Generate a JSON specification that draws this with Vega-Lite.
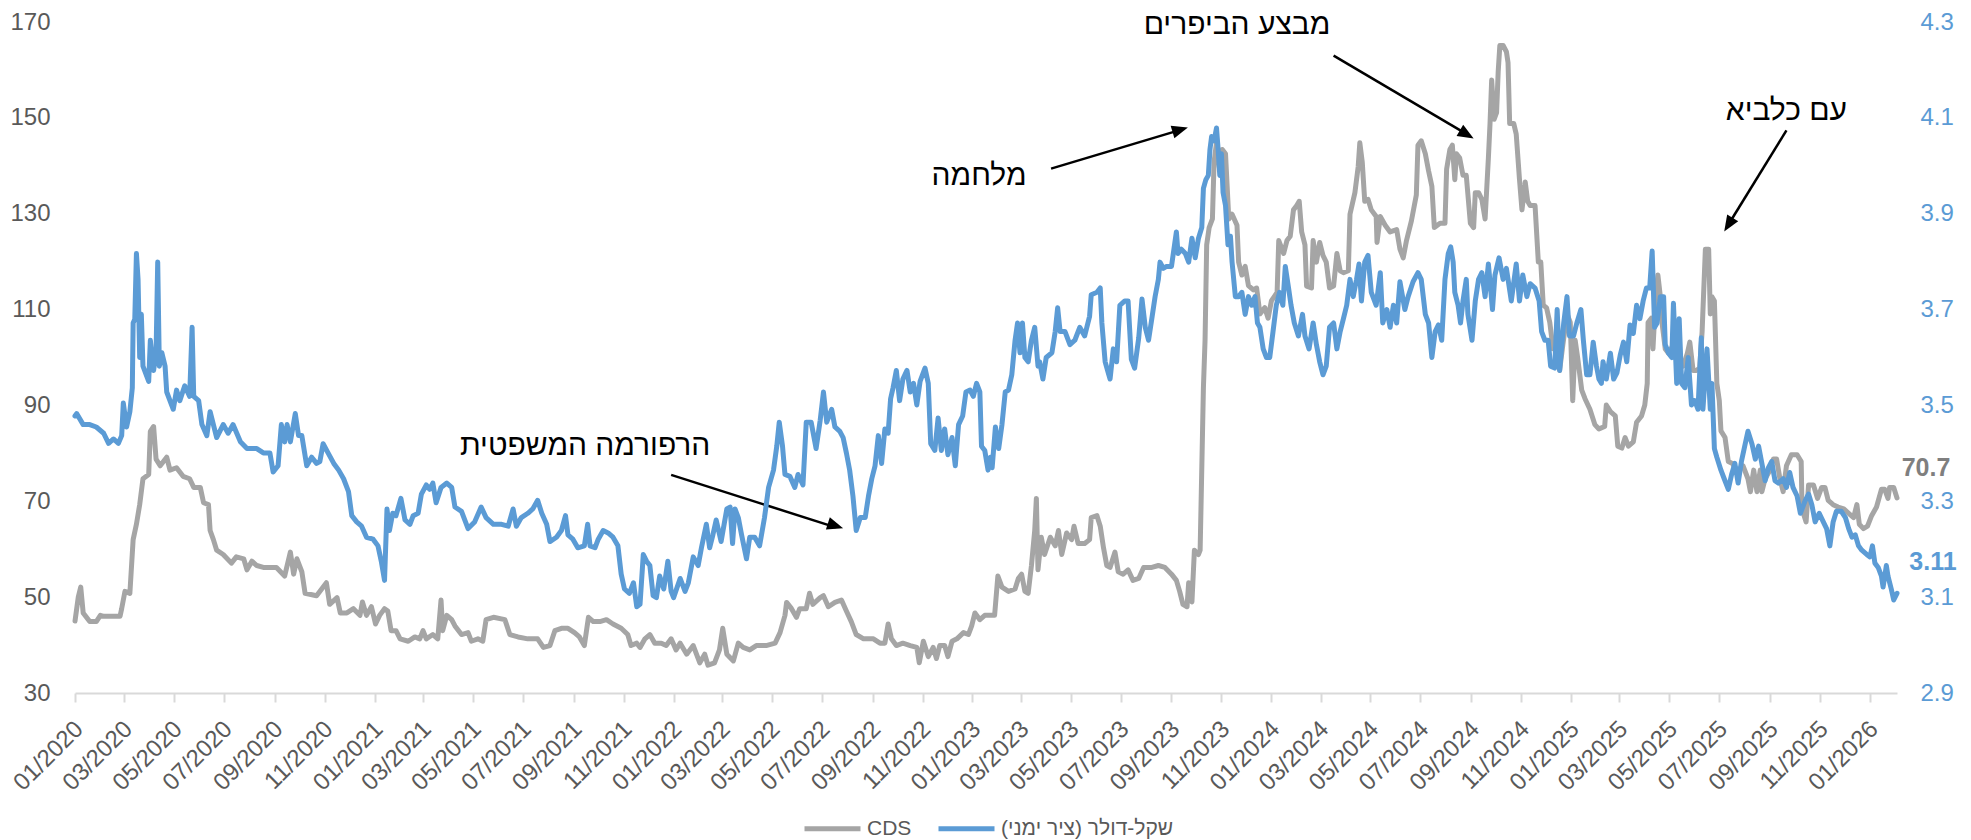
{
"$schema": "https://vega.github.io/schema/vega-lite/v6.json",
"width": 1822, "height": 671,
"autosize": {"type": "none"},
"padding": {"left": 75, "top": 22, "right": 74, "bottom": 147},
"background": "white",
"config": {"view": {"stroke": null}, "axis": {"grid": false}},
"datasets": {
"cds": [
{"d":"2020-01-01","v":45},{"d":"2020-01-05","v":50},{"d":"2020-01-08","v":52.1},{"d":"2020-01-11","v":46.7},{"d":"2020-01-19","v":44.9},{"d":"2020-01-27","v":44.9},{"d":"2020-02-01","v":46.2},{"d":"2020-02-05","v":46},{"d":"2020-02-25","v":46},{"d":"2020-02-27","v":47.6},
{"d":"2020-03-02","v":51.2},{"d":"2020-03-08","v":50.8},{"d":"2020-03-12","v":62},{"d":"2020-03-16","v":65.2},{"d":"2020-03-20","v":69.3},{"d":"2020-03-24","v":74.7},{"d":"2020-03-31","v":75.6},{"d":"2020-04-02","v":84.6},{"d":"2020-04-06","v":85.6},{"d":"2020-04-09","v":78.8},
{"d":"2020-04-14","v":77.4},{"d":"2020-04-22","v":79.2},{"d":"2020-04-26","v":76.5},{"d":"2020-05-04","v":77},{"d":"2020-05-12","v":75.2},{"d":"2020-05-20","v":74.7},{"d":"2020-05-25","v":72.9},{"d":"2020-06-02","v":72.9},{"d":"2020-06-06","v":69.7},{"d":"2020-06-12","v":69.3},
{"d":"2020-06-14","v":63.9},{"d":"2020-06-18","v":62},{"d":"2020-06-22","v":59.8},{"d":"2020-06-30","v":58.9},{"d":"2020-07-10","v":57.1},{"d":"2020-07-16","v":58.4},{"d":"2020-07-25","v":58},{"d":"2020-07-29","v":55.7},{"d":"2020-08-04","v":57.5},{"d":"2020-08-10","v":56.6},
{"d":"2020-08-18","v":56.2},{"d":"2020-09-03","v":56.2},{"d":"2020-09-13","v":54.4},{"d":"2020-09-20","v":59.4},{"d":"2020-09-24","v":54.8},{"d":"2020-09-28","v":58},{"d":"2020-10-04","v":55.3},{"d":"2020-10-08","v":50.8},{"d":"2020-10-22","v":50.3},{"d":"2020-11-03","v":53},
{"d":"2020-11-07","v":48.5},{"d":"2020-11-16","v":49.9},{"d":"2020-11-20","v":46.7},{"d":"2020-11-28","v":46.7},{"d":"2020-12-06","v":47.6},{"d":"2020-12-14","v":46.2},{"d":"2020-12-17","v":49},{"d":"2020-12-22","v":46.2},{"d":"2020-12-28","v":48},
{"d":"2021-01-02","v":44.4},{"d":"2021-01-07","v":46.2},{"d":"2021-01-13","v":47.6},{"d":"2021-01-17","v":47.1},{"d":"2021-01-21","v":43},{"d":"2021-01-27","v":43},{"d":"2021-02-01","v":41.3},{"d":"2021-02-11","v":40.8},{"d":"2021-02-19","v":41.7},{"d":"2021-02-25","v":41.3},
{"d":"2021-03-01","v":43},{"d":"2021-03-05","v":41.3},{"d":"2021-03-13","v":42.2},{"d":"2021-03-19","v":41.3},{"d":"2021-03-23","v":49.4},{"d":"2021-03-25","v":43},{"d":"2021-03-30","v":46.2},{"d":"2021-04-05","v":45.3},{"d":"2021-04-09","v":44},{"d":"2021-04-17","v":42.2},
{"d":"2021-04-25","v":42.6},{"d":"2021-04-29","v":40.8},{"d":"2021-05-07","v":41.3},{"d":"2021-05-13","v":40.8},{"d":"2021-05-17","v":45.3},{"d":"2021-05-26","v":45.8},{"d":"2021-06-09","v":45.3},{"d":"2021-06-15","v":42.2},{"d":"2021-06-25","v":41.7},{"d":"2021-07-07","v":41.3},
{"d":"2021-07-19","v":41.3},{"d":"2021-07-26","v":39.5},{"d":"2021-08-03","v":39.9},{"d":"2021-08-09","v":43},{"d":"2021-08-17","v":43.5},{"d":"2021-08-25","v":43.5},{"d":"2021-09-02","v":42.6},{"d":"2021-09-08","v":41.7},{"d":"2021-09-14","v":39.9},{"d":"2021-09-19","v":45.8},
{"d":"2021-09-25","v":44.9},{"d":"2021-10-03","v":44.9},{"d":"2021-10-11","v":45.3},{"d":"2021-10-19","v":44.4},{"d":"2021-10-29","v":43.5},{"d":"2021-11-06","v":42.2},{"d":"2021-11-10","v":39.9},{"d":"2021-11-17","v":40.4},{"d":"2021-11-21","v":39.5},{"d":"2021-11-27","v":41.3},
{"d":"2021-12-03","v":42.2},{"d":"2021-12-09","v":40.4},{"d":"2021-12-17","v":40.4},{"d":"2021-12-23","v":39.9},{"d":"2021-12-29","v":41.3},
{"d":"2022-01-04","v":39},{"d":"2022-01-09","v":40.4},{"d":"2022-01-17","v":38.1},{"d":"2022-01-25","v":39.9},{"d":"2022-02-02","v":36.3},{"d":"2022-02-08","v":38.1},{"d":"2022-02-12","v":35.8},{"d":"2022-02-20","v":36.3},{"d":"2022-02-26","v":39},{"d":"2022-03-02","v":43.5},
{"d":"2022-03-07","v":38.1},{"d":"2022-03-15","v":36.7},{"d":"2022-03-21","v":40.4},{"d":"2022-03-27","v":39.5},{"d":"2022-04-04","v":39},{"d":"2022-04-12","v":39.9},{"d":"2022-04-24","v":39.9},{"d":"2022-05-05","v":40.4},{"d":"2022-05-11","v":42.6},{"d":"2022-05-17","v":46.2},
{"d":"2022-05-19","v":48.9},{"d":"2022-05-25","v":47.6},{"d":"2022-05-31","v":45.8},{"d":"2022-06-04","v":47.6},{"d":"2022-06-12","v":47.6},{"d":"2022-06-16","v":50.8},{"d":"2022-06-20","v":48.5},{"d":"2022-06-29","v":49.9},{"d":"2022-07-03","v":50.3},{"d":"2022-07-09","v":48},
{"d":"2022-07-17","v":48.9},{"d":"2022-07-25","v":49.4},{"d":"2022-07-31","v":47.1},{"d":"2022-08-06","v":44.9},{"d":"2022-08-12","v":42.2},{"d":"2022-08-21","v":41.3},{"d":"2022-09-02","v":41.3},{"d":"2022-09-10","v":40.4},{"d":"2022-09-16","v":40.4},{"d":"2022-09-20","v":44.4},
{"d":"2022-09-24","v":41.3},{"d":"2022-09-30","v":39.9},{"d":"2022-10-08","v":40.4},{"d":"2022-10-17","v":39.9},{"d":"2022-10-25","v":39.5},{"d":"2022-10-28","v":36.3},{"d":"2022-11-02","v":40.8},{"d":"2022-11-08","v":37.6},{"d":"2022-11-14","v":39.5},{"d":"2022-11-18","v":37.2},
{"d":"2022-11-22","v":39.9},{"d":"2022-11-28","v":39.9},{"d":"2022-12-02","v":37.6},{"d":"2022-12-07","v":40.8},{"d":"2022-12-13","v":41.3},{"d":"2022-12-21","v":42.6},{"d":"2022-12-27","v":42.2},{"d":"2022-12-31","v":44},
{"d":"2023-01-04","v":46.7},{"d":"2023-01-10","v":45.3},{"d":"2023-01-16","v":46.2},{"d":"2023-01-28","v":46.2},{"d":"2023-02-01","v":54.4},{"d":"2023-02-06","v":52.1},{"d":"2023-02-14","v":51.2},{"d":"2023-02-22","v":51.7},{"d":"2023-02-26","v":53.9},{"d":"2023-03-02","v":54.8},
{"d":"2023-03-06","v":51.2},{"d":"2023-03-10","v":50.8},{"d":"2023-03-14","v":56.6},{"d":"2023-03-18","v":63.9},{"d":"2023-03-20","v":70.6},{"d":"2023-03-22","v":55.7},{"d":"2023-03-26","v":62.5},{"d":"2023-03-30","v":58.9},{"d":"2023-04-06","v":62.5},{"d":"2023-04-12","v":60.7},
{"d":"2023-04-16","v":63.9},{"d":"2023-04-20","v":58.9},{"d":"2023-04-26","v":63.4},{"d":"2023-05-02","v":62},{"d":"2023-05-05","v":64.8},{"d":"2023-05-10","v":61.2},{"d":"2023-05-18","v":61.2},{"d":"2023-05-24","v":62},{"d":"2023-05-26","v":66.6},{"d":"2023-06-02","v":67},
{"d":"2023-06-06","v":64.8},{"d":"2023-06-10","v":60.3},{"d":"2023-06-14","v":56.6},{"d":"2023-06-18","v":56.2},{"d":"2023-06-24","v":59.4},{"d":"2023-06-28","v":55.3},{"d":"2023-07-04","v":54.8},{"d":"2023-07-10","v":55.7},{"d":"2023-07-16","v":53.5},{"d":"2023-07-23","v":53.9},
{"d":"2023-07-29","v":56.2},{"d":"2023-08-08","v":56.2},{"d":"2023-08-16","v":56.6},{"d":"2023-08-24","v":56.2},{"d":"2023-09-01","v":54.8},{"d":"2023-09-07","v":53.5},{"d":"2023-09-11","v":51.2},{"d":"2023-09-15","v":48.5},{"d":"2023-09-20","v":48},{"d":"2023-09-22","v":53},
{"d":"2023-09-26","v":49},{"d":"2023-09-29","v":59.8},{"d":"2023-10-04","v":58.9},{"d":"2023-10-06","v":59.8},{"d":"2023-10-10","v":93.7},{"d":"2023-10-12","v":103.6},{"d":"2023-10-14","v":123.5},{"d":"2023-10-17","v":127.1},{"d":"2023-10-21","v":128.9},{"d":"2023-10-23","v":140.7},
{"d":"2023-10-26","v":144.8},{"d":"2023-10-30","v":138.9},{"d":"2023-11-02","v":143.4},{"d":"2023-11-06","v":142.5},{"d":"2023-11-10","v":128.9},{"d":"2023-11-14","v":129.9},{"d":"2023-11-20","v":127.6},{"d":"2023-11-22","v":119.9},{"d":"2023-11-26","v":117.2},{"d":"2023-11-30","v":119},
{"d":"2023-12-04","v":115},{"d":"2023-12-10","v":114.1},{"d":"2023-12-14","v":114.5},{"d":"2023-12-18","v":109.1},{"d":"2023-12-24","v":110.4},{"d":"2023-12-28","v":108.2},
{"d":"2024-01-01","v":111.8},{"d":"2024-01-08","v":113.6},{"d":"2024-01-10","v":124.4},{"d":"2024-01-16","v":121.7},{"d":"2024-01-20","v":124.4},{"d":"2024-01-24","v":125.3},{"d":"2024-01-28","v":130.8},{"d":"2024-02-01","v":131.7},{"d":"2024-02-04","v":132.6},{"d":"2024-02-07","v":126.2},
{"d":"2024-02-11","v":123.5},{"d":"2024-02-13","v":114.9},{"d":"2024-02-19","v":114.5},{"d":"2024-02-21","v":124.4},{"d":"2024-02-25","v":119.9},{"d":"2024-02-29","v":124},{"d":"2024-03-04","v":121.3},{"d":"2024-03-08","v":119.9},{"d":"2024-03-12","v":114.5},{"d":"2024-03-17","v":114.9},
{"d":"2024-03-21","v":121.7},{"d":"2024-03-25","v":118.1},{"d":"2024-03-29","v":117.7},{"d":"2024-04-04","v":118.1},{"d":"2024-04-06","v":129.9},{"d":"2024-04-12","v":134.4},{"d":"2024-04-16","v":139.8},{"d":"2024-04-18","v":144.8},{"d":"2024-04-21","v":140.7},{"d":"2024-04-24","v":132.6},
{"d":"2024-04-28","v":133},{"d":"2024-05-02","v":130.8},{"d":"2024-05-08","v":129.4},{"d":"2024-05-09","v":124},{"d":"2024-05-13","v":129.4},{"d":"2024-05-19","v":127.6},{"d":"2024-05-25","v":126.2},{"d":"2024-06-02","v":126.7},{"d":"2024-06-06","v":122.6},{"d":"2024-06-10","v":120.8},
{"d":"2024-06-14","v":124.4},{"d":"2024-06-20","v":128.5},{"d":"2024-06-26","v":133.9},{"d":"2024-06-28","v":144.3},{"d":"2024-07-02","v":145.2},{"d":"2024-07-07","v":142.5},{"d":"2024-07-11","v":138.9},{"d":"2024-07-15","v":135.7},{"d":"2024-07-18","v":127.1},{"d":"2024-07-25","v":128},
{"d":"2024-07-31","v":128},{"d":"2024-08-02","v":139.3},{"d":"2024-08-06","v":143.4},{"d":"2024-08-09","v":144.3},{"d":"2024-08-12","v":137.1},{"d":"2024-08-14","v":142.5},{"d":"2024-08-18","v":141.6},{"d":"2024-08-22","v":138},{"d":"2024-08-26","v":138},{"d":"2024-08-31","v":128},
{"d":"2024-09-04","v":127.1},{"d":"2024-09-06","v":134.4},{"d":"2024-09-10","v":134.4},{"d":"2024-09-14","v":133},{"d":"2024-09-18","v":128.9},{"d":"2024-09-22","v":141.6},{"d":"2024-09-24","v":148.8},{"d":"2024-09-26","v":157.9},{"d":"2024-09-29","v":149.7},{"d":"2024-10-02","v":151.1},
{"d":"2024-10-04","v":159.7},{"d":"2024-10-06","v":165.1},{"d":"2024-10-10","v":165.1},{"d":"2024-10-14","v":163.8},{"d":"2024-10-16","v":161.5},{"d":"2024-10-18","v":148.8},{"d":"2024-10-23","v":148.8},{"d":"2024-10-26","v":146.6},{"d":"2024-10-30","v":137.1},{"d":"2024-11-02","v":130.8},
{"d":"2024-11-06","v":136.6},{"d":"2024-11-09","v":132.6},{"d":"2024-11-12","v":131.7},{"d":"2024-11-18","v":131.7},{"d":"2024-11-22","v":119.9},{"d":"2024-11-25","v":119.9},{"d":"2024-11-28","v":110.9},{"d":"2024-12-02","v":110.4},{"d":"2024-12-06","v":107.3},{"d":"2024-12-10","v":101.8},
{"d":"2024-12-14","v":101.8},{"d":"2024-12-18","v":97.3},{"d":"2024-12-22","v":102.7},{"d":"2024-12-27","v":109.1},{"d":"2024-12-31","v":107.3},
{"d":"2025-01-03","v":91},{"d":"2025-01-06","v":103.6},{"d":"2025-01-09","v":100},{"d":"2025-01-14","v":93.2},{"d":"2025-01-18","v":91.4},{"d":"2025-01-24","v":89.2},{"d":"2025-01-30","v":86},{"d":"2025-02-04","v":85.1},{"d":"2025-02-11","v":85.6},{"d":"2025-02-13","v":90.1},
{"d":"2025-02-18","v":88.7},{"d":"2025-02-24","v":87.8},{"d":"2025-02-27","v":81.5},{"d":"2025-03-04","v":81.1},{"d":"2025-03-08","v":83.3},{"d":"2025-03-12","v":81.5},{"d":"2025-03-18","v":82.4},{"d":"2025-03-22","v":86.5},{"d":"2025-03-28","v":87.8},{"d":"2025-04-01","v":90.1},
{"d":"2025-04-04","v":94.6},{"d":"2025-04-05","v":107.3},{"d":"2025-04-09","v":108.2},{"d":"2025-04-11","v":101.8},{"d":"2025-04-14","v":111.8},{"d":"2025-04-17","v":117.2},{"d":"2025-04-20","v":112.7},{"d":"2025-04-22","v":107.3},{"d":"2025-04-26","v":101.8},{"d":"2025-04-30","v":100.9},
{"d":"2025-05-06","v":102.7},{"d":"2025-05-12","v":100},{"d":"2025-05-18","v":98.2},{"d":"2025-05-23","v":100.9},{"d":"2025-05-26","v":103.2},{"d":"2025-05-30","v":97.3},{"d":"2025-06-03","v":97.3},{"d":"2025-06-07","v":97.8},{"d":"2025-06-10","v":105.4},{"d":"2025-06-14","v":122.6},
{"d":"2025-06-18","v":122.6},{"d":"2025-06-20","v":109.1},{"d":"2025-06-22","v":112.7},{"d":"2025-06-25","v":111.8},{"d":"2025-06-28","v":94.6},{"d":"2025-07-01","v":91},{"d":"2025-07-03","v":84.7},{"d":"2025-07-08","v":83.3},{"d":"2025-07-12","v":78.3},{"d":"2025-07-17","v":77.9},
{"d":"2025-07-20","v":77},{"d":"2025-07-24","v":76.5},{"d":"2025-07-30","v":77.4},{"d":"2025-08-05","v":74.7},{"d":"2025-08-08","v":72},{"d":"2025-08-12","v":76.5},{"d":"2025-08-16","v":72},{"d":"2025-08-20","v":76.5},{"d":"2025-08-22","v":72},{"d":"2025-08-26","v":74.7},
{"d":"2025-09-01","v":76.5},{"d":"2025-09-05","v":78.8},{"d":"2025-09-09","v":78.8},{"d":"2025-09-13","v":74.7},{"d":"2025-09-17","v":72},{"d":"2025-09-21","v":77.4},{"d":"2025-09-27","v":79.7},{"d":"2025-10-04","v":79.7},{"d":"2025-10-09","v":78.3},{"d":"2025-10-10","v":68.4},
{"d":"2025-10-15","v":65.7},{"d":"2025-10-18","v":73.4},{"d":"2025-10-24","v":73.4},{"d":"2025-10-29","v":70.6},{"d":"2025-11-03","v":72.9},{"d":"2025-11-07","v":72.9},{"d":"2025-11-11","v":70.2},{"d":"2025-11-17","v":69.3},{"d":"2025-11-23","v":68.8},{"d":"2025-11-30","v":68.4},
{"d":"2025-12-06","v":67.5},{"d":"2025-12-12","v":66.6},{"d":"2025-12-16","v":69.3},{"d":"2025-12-19","v":65.2},{"d":"2025-12-24","v":64.3},{"d":"2025-12-29","v":64.8},
{"d":"2026-01-03","v":67},{"d":"2026-01-09","v":68.8},{"d":"2026-01-15","v":72.5},{"d":"2026-01-19","v":72.5},{"d":"2026-01-23","v":70.6},{"d":"2026-01-25","v":72.9},{"d":"2026-01-30","v":72.9},{"d":"2026-02-03","v":70.7}
],
"usd": [
{"d":"2020-01-01","v":3.478},{"d":"2020-01-03","v":3.483},{"d":"2020-01-11","v":3.46},{"d":"2020-01-19","v":3.46},{"d":"2020-01-27","v":3.455},{"d":"2020-02-05","v":3.442},{"d":"2020-02-11","v":3.421},{"d":"2020-02-17","v":3.43},{"d":"2020-02-23","v":3.421},{"d":"2020-02-27","v":3.437},
{"d":"2020-02-29","v":3.505},{"d":"2020-03-04","v":3.455},{"d":"2020-03-08","v":3.487},{"d":"2020-03-11","v":3.537},{"d":"2020-03-12","v":3.672},{"d":"2020-03-14","v":3.68},{"d":"2020-03-16","v":3.817},{"d":"2020-03-18","v":3.763},{"d":"2020-03-20","v":3.6},{"d":"2020-03-22","v":3.69},
{"d":"2020-03-24","v":3.582},{"d":"2020-03-31","v":3.55},{"d":"2020-04-02","v":3.636},{"d":"2020-04-06","v":3.573},{"d":"2020-04-09","v":3.61},{"d":"2020-04-11","v":3.799},{"d":"2020-04-13","v":3.582},{"d":"2020-04-16","v":3.61},{"d":"2020-04-20","v":3.582},{"d":"2020-04-22","v":3.528},
{"d":"2020-04-30","v":3.492},{"d":"2020-05-04","v":3.532},{"d":"2020-05-08","v":3.51},{"d":"2020-05-14","v":3.541},{"d":"2020-05-20","v":3.519},{"d":"2020-05-23","v":3.663},{"d":"2020-05-25","v":3.519},{"d":"2020-05-31","v":3.51},{"d":"2020-06-04","v":3.46},{"d":"2020-06-10","v":3.437},
{"d":"2020-06-14","v":3.487},{"d":"2020-06-22","v":3.433},{"d":"2020-06-30","v":3.46},{"d":"2020-07-06","v":3.442},{"d":"2020-07-12","v":3.46},{"d":"2020-07-21","v":3.424},{"d":"2020-07-29","v":3.41},{"d":"2020-08-10","v":3.41},{"d":"2020-08-18","v":3.401},{"d":"2020-08-26","v":3.401},
{"d":"2020-08-30","v":3.361},{"d":"2020-09-05","v":3.374},{"d":"2020-09-09","v":3.46},{"d":"2020-09-13","v":3.424},{"d":"2020-09-16","v":3.46},{"d":"2020-09-20","v":3.424},{"d":"2020-09-26","v":3.483},{"d":"2020-09-30","v":3.437},{"d":"2020-10-04","v":3.437},{"d":"2020-10-10","v":3.374},
{"d":"2020-10-16","v":3.392},{"d":"2020-10-22","v":3.379},{"d":"2020-10-26","v":3.383},{"d":"2020-10-30","v":3.42},{"d":"2020-11-05","v":3.401},{"d":"2020-11-12","v":3.379},{"d":"2020-11-18","v":3.365},{"d":"2020-11-24","v":3.347},{"d":"2020-11-30","v":3.32},{"d":"2020-12-04","v":3.27},
{"d":"2020-12-10","v":3.257},{"d":"2020-12-16","v":3.248},{"d":"2020-12-22","v":3.225},{"d":"2020-12-30","v":3.221},
{"d":"2021-01-05","v":3.207},{"d":"2021-01-09","v":3.175},{"d":"2021-01-13","v":3.135},{"d":"2021-01-16","v":3.284},{"d":"2021-01-19","v":3.239},{"d":"2021-01-23","v":3.275},{"d":"2021-01-27","v":3.27},{"d":"2021-02-02","v":3.306},{"d":"2021-02-07","v":3.261},{"d":"2021-02-13","v":3.252},
{"d":"2021-02-17","v":3.27},{"d":"2021-02-23","v":3.275},{"d":"2021-02-27","v":3.315},{"d":"2021-03-05","v":3.334},{"d":"2021-03-09","v":3.325},{"d":"2021-03-13","v":3.338},{"d":"2021-03-17","v":3.297},{"d":"2021-03-23","v":3.329},{"d":"2021-03-30","v":3.338},{"d":"2021-04-05","v":3.329},
{"d":"2021-04-09","v":3.288},{"d":"2021-04-17","v":3.279},{"d":"2021-04-25","v":3.243},{"d":"2021-05-03","v":3.257},{"d":"2021-05-11","v":3.288},{"d":"2021-05-17","v":3.266},{"d":"2021-05-26","v":3.252},{"d":"2021-06-05","v":3.252},{"d":"2021-06-13","v":3.248},{"d":"2021-06-19","v":3.284},
{"d":"2021-06-23","v":3.248},{"d":"2021-06-29","v":3.266},{"d":"2021-07-07","v":3.275},{"d":"2021-07-13","v":3.284},{"d":"2021-07-19","v":3.302},{"d":"2021-07-24","v":3.275},{"d":"2021-07-30","v":3.252},{"d":"2021-08-03","v":3.216},{"d":"2021-08-11","v":3.225},{"d":"2021-08-17","v":3.239},
{"d":"2021-08-22","v":3.27},{"d":"2021-08-25","v":3.23},{"d":"2021-08-31","v":3.221},{"d":"2021-09-06","v":3.203},{"d":"2021-09-14","v":3.207},{"d":"2021-09-18","v":3.252},{"d":"2021-09-21","v":3.207},{"d":"2021-09-27","v":3.203},{"d":"2021-10-01","v":3.221},{"d":"2021-10-07","v":3.239},
{"d":"2021-10-13","v":3.234},{"d":"2021-10-19","v":3.225},{"d":"2021-10-25","v":3.207},{"d":"2021-10-29","v":3.148},{"d":"2021-11-02","v":3.117},{"d":"2021-11-08","v":3.108},{"d":"2021-11-13","v":3.13},{"d":"2021-11-17","v":3.08},{"d":"2021-11-21","v":3.085},{"d":"2021-11-25","v":3.189},
{"d":"2021-11-29","v":3.175},{"d":"2021-12-03","v":3.166},{"d":"2021-12-07","v":3.103},{"d":"2021-12-11","v":3.099},{"d":"2021-12-15","v":3.144},{"d":"2021-12-20","v":3.117},{"d":"2021-12-25","v":3.175},{"d":"2021-12-29","v":3.112},
{"d":"2022-01-01","v":3.099},{"d":"2022-01-09","v":3.139},{"d":"2022-01-15","v":3.112},{"d":"2022-01-19","v":3.13},{"d":"2022-01-25","v":3.184},{"d":"2022-01-31","v":3.166},{"d":"2022-02-04","v":3.203},{"d":"2022-02-10","v":3.252},{"d":"2022-02-14","v":3.203},{"d":"2022-02-18","v":3.23},
{"d":"2022-02-22","v":3.261},{"d":"2022-02-28","v":3.216},{"d":"2022-03-07","v":3.284},{"d":"2022-03-11","v":3.288},{"d":"2022-03-14","v":3.212},{"d":"2022-03-17","v":3.284},{"d":"2022-03-21","v":3.266},{"d":"2022-03-25","v":3.23},{"d":"2022-03-31","v":3.18},{"d":"2022-04-04","v":3.225},
{"d":"2022-04-10","v":3.225},{"d":"2022-04-16","v":3.207},{"d":"2022-04-22","v":3.266},{"d":"2022-04-27","v":3.329},{"d":"2022-05-03","v":3.365},{"d":"2022-05-07","v":3.415},{"d":"2022-05-10","v":3.465},{"d":"2022-05-14","v":3.415},{"d":"2022-05-17","v":3.356},{"d":"2022-05-23","v":3.352},
{"d":"2022-05-29","v":3.329},{"d":"2022-06-02","v":3.356},{"d":"2022-06-08","v":3.334},{"d":"2022-06-12","v":3.465},{"d":"2022-06-18","v":3.465},{"d":"2022-06-24","v":3.41},{"d":"2022-06-29","v":3.469},{"d":"2022-07-03","v":3.528},{"d":"2022-07-07","v":3.465},{"d":"2022-07-13","v":3.492},
{"d":"2022-07-17","v":3.455},{"d":"2022-07-23","v":3.446},{"d":"2022-07-27","v":3.433},{"d":"2022-07-31","v":3.401},{"d":"2022-08-04","v":3.365},{"d":"2022-08-08","v":3.311},{"d":"2022-08-12","v":3.239},{"d":"2022-08-17","v":3.266},{"d":"2022-08-23","v":3.266},{"d":"2022-08-27","v":3.311},
{"d":"2022-08-31","v":3.347},{"d":"2022-09-04","v":3.374},{"d":"2022-09-08","v":3.437},{"d":"2022-09-12","v":3.379},{"d":"2022-09-16","v":3.451},{"d":"2022-09-20","v":3.442},{"d":"2022-09-23","v":3.514},{"d":"2022-09-26","v":3.537},{"d":"2022-09-30","v":3.573},{"d":"2022-10-04","v":3.51},
{"d":"2022-10-08","v":3.555},{"d":"2022-10-13","v":3.573},{"d":"2022-10-17","v":3.528},{"d":"2022-10-21","v":3.546},{"d":"2022-10-25","v":3.501},{"d":"2022-10-29","v":3.55},{"d":"2022-11-04","v":3.578},{"d":"2022-11-08","v":3.546},{"d":"2022-11-11","v":3.42},{"d":"2022-11-16","v":3.406},
{"d":"2022-11-20","v":3.474},{"d":"2022-11-24","v":3.406},{"d":"2022-11-28","v":3.451},{"d":"2022-12-02","v":3.397},{"d":"2022-12-07","v":3.433},{"d":"2022-12-11","v":3.374},{"d":"2022-12-15","v":3.46},{"d":"2022-12-20","v":3.478},{"d":"2022-12-24","v":3.528},{"d":"2022-12-29","v":3.532},
{"d":"2023-01-02","v":3.519},{"d":"2023-01-06","v":3.546},{"d":"2023-01-10","v":3.528},{"d":"2023-01-12","v":3.415},{"d":"2023-01-16","v":3.406},{"d":"2023-01-20","v":3.365},{"d":"2023-01-23","v":3.392},{"d":"2023-01-25","v":3.37},{"d":"2023-01-29","v":3.455},{"d":"2023-02-02","v":3.41},
{"d":"2023-02-06","v":3.46},{"d":"2023-02-10","v":3.528},{"d":"2023-02-14","v":3.532},{"d":"2023-02-18","v":3.564},{"d":"2023-02-22","v":3.636},{"d":"2023-02-25","v":3.672},{"d":"2023-02-28","v":3.61},{"d":"2023-03-03","v":3.672},{"d":"2023-03-06","v":3.6},{"d":"2023-03-10","v":3.591},
{"d":"2023-03-14","v":3.636},{"d":"2023-03-18","v":3.663},{"d":"2023-03-22","v":3.582},{"d":"2023-03-24","v":3.591},{"d":"2023-03-28","v":3.555},{"d":"2023-04-01","v":3.6},{"d":"2023-04-08","v":3.61},{"d":"2023-04-12","v":3.654},{"d":"2023-04-15","v":3.704},{"d":"2023-04-18","v":3.654},
{"d":"2023-04-24","v":3.654},{"d":"2023-04-30","v":3.627},{"d":"2023-05-06","v":3.636},{"d":"2023-05-12","v":3.663},{"d":"2023-05-18","v":3.645},{"d":"2023-05-24","v":3.686},{"d":"2023-05-26","v":3.731},{"d":"2023-06-02","v":3.736},{"d":"2023-06-06","v":3.745},{"d":"2023-06-08","v":3.672},
{"d":"2023-06-12","v":3.591},{"d":"2023-06-15","v":3.573},{"d":"2023-06-18","v":3.555},{"d":"2023-06-22","v":3.618},{"d":"2023-06-26","v":3.591},{"d":"2023-06-30","v":3.709},{"d":"2023-07-06","v":3.718},{"d":"2023-07-10","v":3.718},{"d":"2023-07-14","v":3.596},{"d":"2023-07-18","v":3.578},
{"d":"2023-07-23","v":3.641},{"d":"2023-07-27","v":3.722},{"d":"2023-07-31","v":3.663},{"d":"2023-08-04","v":3.636},{"d":"2023-08-08","v":3.681},{"d":"2023-08-12","v":3.727},{"d":"2023-08-16","v":3.763},{"d":"2023-08-18","v":3.799},{"d":"2023-08-22","v":3.786},{"d":"2023-08-26","v":3.79},
{"d":"2023-09-01","v":3.79},{"d":"2023-09-07","v":3.862},{"d":"2023-09-09","v":3.817},{"d":"2023-09-13","v":3.826},{"d":"2023-09-18","v":3.817},{"d":"2023-09-22","v":3.799},{"d":"2023-09-26","v":3.849},{"d":"2023-09-30","v":3.808},{"d":"2023-10-04","v":3.849},{"d":"2023-10-08","v":3.871},
{"d":"2023-10-10","v":3.953},{"d":"2023-10-13","v":3.971},{"d":"2023-10-16","v":3.98},{"d":"2023-10-18","v":4.034},{"d":"2023-10-20","v":4.061},{"d":"2023-10-23","v":4.052},{"d":"2023-10-26","v":4.079},{"d":"2023-10-28","v":4.034},{"d":"2023-10-30","v":3.98},{"d":"2023-11-01","v":4.025},
{"d":"2023-11-03","v":3.944},{"d":"2023-11-06","v":3.917},{"d":"2023-11-09","v":3.835},{"d":"2023-11-12","v":3.853},{"d":"2023-11-14","v":3.799},{"d":"2023-11-18","v":3.727},{"d":"2023-11-22","v":3.727},{"d":"2023-11-26","v":3.736},{"d":"2023-11-30","v":3.69},{"d":"2023-12-04","v":3.727},
{"d":"2023-12-08","v":3.709},{"d":"2023-12-12","v":3.727},{"d":"2023-12-15","v":3.672},{"d":"2023-12-18","v":3.663},{"d":"2023-12-22","v":3.618},{"d":"2023-12-26","v":3.6},{"d":"2023-12-30","v":3.6},
{"d":"2024-01-03","v":3.654},{"d":"2024-01-07","v":3.709},{"d":"2024-01-11","v":3.736},{"d":"2024-01-15","v":3.709},{"d":"2024-01-18","v":3.79},{"d":"2024-01-22","v":3.745},{"d":"2024-01-25","v":3.709},{"d":"2024-01-29","v":3.672},{"d":"2024-02-03","v":3.645},{"d":"2024-02-08","v":3.69},
{"d":"2024-02-11","v":3.645},{"d":"2024-02-16","v":3.618},{"d":"2024-02-21","v":3.672},{"d":"2024-02-25","v":3.627},{"d":"2024-02-29","v":3.591},{"d":"2024-03-04","v":3.564},{"d":"2024-03-08","v":3.582},{"d":"2024-03-12","v":3.663},{"d":"2024-03-17","v":3.672},{"d":"2024-03-21","v":3.618},
{"d":"2024-03-25","v":3.654},{"d":"2024-03-29","v":3.681},{"d":"2024-04-02","v":3.709},{"d":"2024-04-06","v":3.763},{"d":"2024-04-10","v":3.727},{"d":"2024-04-14","v":3.763},{"d":"2024-04-17","v":3.795},{"d":"2024-04-20","v":3.718},{"d":"2024-04-24","v":3.799},{"d":"2024-04-28","v":3.813},
{"d":"2024-05-02","v":3.736},{"d":"2024-05-08","v":3.709},{"d":"2024-05-13","v":3.777},{"d":"2024-05-16","v":3.672},{"d":"2024-05-21","v":3.7},{"d":"2024-05-25","v":3.663},{"d":"2024-05-29","v":3.709},{"d":"2024-06-02","v":3.672},{"d":"2024-06-06","v":3.758},{"d":"2024-06-12","v":3.7},
{"d":"2024-06-16","v":3.727},{"d":"2024-06-22","v":3.758},{"d":"2024-06-28","v":3.777},{"d":"2024-07-02","v":3.763},{"d":"2024-07-07","v":3.69},{"d":"2024-07-11","v":3.672},{"d":"2024-07-15","v":3.6},{"d":"2024-07-19","v":3.654},{"d":"2024-07-23","v":3.668},{"d":"2024-07-27","v":3.636},
{"d":"2024-07-31","v":3.763},{"d":"2024-08-04","v":3.817},{"d":"2024-08-07","v":3.831},{"d":"2024-08-10","v":3.799},{"d":"2024-08-12","v":3.736},{"d":"2024-08-16","v":3.709},{"d":"2024-08-19","v":3.672},{"d":"2024-08-22","v":3.718},{"d":"2024-08-26","v":3.763},{"d":"2024-08-28","v":3.69},
{"d":"2024-09-02","v":3.636},{"d":"2024-09-06","v":3.718},{"d":"2024-09-10","v":3.763},{"d":"2024-09-14","v":3.777},{"d":"2024-09-18","v":3.727},{"d":"2024-09-22","v":3.795},{"d":"2024-09-27","v":3.7},{"d":"2024-09-30","v":3.772},{"d":"2024-10-05","v":3.808},{"d":"2024-10-10","v":3.763},
{"d":"2024-10-14","v":3.786},{"d":"2024-10-20","v":3.718},{"d":"2024-10-26","v":3.795},{"d":"2024-10-30","v":3.718},{"d":"2024-11-03","v":3.772},{"d":"2024-11-08","v":3.727},{"d":"2024-11-12","v":3.754},{"d":"2024-11-18","v":3.745},{"d":"2024-11-23","v":3.718},{"d":"2024-11-26","v":3.654},
{"d":"2024-11-30","v":3.636},{"d":"2024-12-04","v":3.636},{"d":"2024-12-07","v":3.582},{"d":"2024-12-12","v":3.578},{"d":"2024-12-15","v":3.7},{"d":"2024-12-18","v":3.573},{"d":"2024-12-23","v":3.672},{"d":"2024-12-27","v":3.727},{"d":"2024-12-30","v":3.645},
{"d":"2025-01-04","v":3.645},{"d":"2025-01-08","v":3.672},{"d":"2025-01-13","v":3.7},{"d":"2025-01-16","v":3.636},{"d":"2025-01-20","v":3.564},{"d":"2025-01-24","v":3.564},{"d":"2025-01-28","v":3.632},{"d":"2025-02-01","v":3.582},{"d":"2025-02-04","v":3.555},{"d":"2025-02-07","v":3.546},
{"d":"2025-02-09","v":3.591},{"d":"2025-02-13","v":3.555},{"d":"2025-02-18","v":3.609},{"d":"2025-02-22","v":3.555},{"d":"2025-02-26","v":3.568},{"d":"2025-03-02","v":3.605},{"d":"2025-03-06","v":3.632},{"d":"2025-03-10","v":3.591},{"d":"2025-03-14","v":3.668},{"d":"2025-03-18","v":3.65},
{"d":"2025-03-22","v":3.709},{"d":"2025-03-26","v":3.681},{"d":"2025-03-30","v":3.718},{"d":"2025-04-03","v":3.745},{"d":"2025-04-07","v":3.745},{"d":"2025-04-10","v":3.822},{"d":"2025-04-13","v":3.663},{"d":"2025-04-16","v":3.672},{"d":"2025-04-20","v":3.727},{"d":"2025-04-24","v":3.727},
{"d":"2025-04-26","v":3.627},{"d":"2025-04-30","v":3.609},{"d":"2025-05-04","v":3.6},{"d":"2025-05-06","v":3.713},{"d":"2025-05-10","v":3.546},{"d":"2025-05-13","v":3.681},{"d":"2025-05-16","v":3.546},{"d":"2025-05-20","v":3.537},{"d":"2025-05-24","v":3.6},{"d":"2025-05-28","v":3.501},
{"d":"2025-06-01","v":3.51},{"d":"2025-06-05","v":3.492},{"d":"2025-06-09","v":3.641},{"d":"2025-06-11","v":3.492},{"d":"2025-06-16","v":3.618},{"d":"2025-06-20","v":3.492},{"d":"2025-06-22","v":3.546},{"d":"2025-06-25","v":3.41},{"d":"2025-06-28","v":3.392},{"d":"2025-07-03","v":3.365},
{"d":"2025-07-07","v":3.347},{"d":"2025-07-12","v":3.325},{"d":"2025-07-16","v":3.356},{"d":"2025-07-20","v":3.379},{"d":"2025-07-24","v":3.338},{"d":"2025-07-28","v":3.383},{"d":"2025-08-01","v":3.415},{"d":"2025-08-05","v":3.446},{"d":"2025-08-10","v":3.419},{"d":"2025-08-14","v":3.388},
{"d":"2025-08-18","v":3.415},{"d":"2025-08-22","v":3.379},{"d":"2025-08-26","v":3.343},{"d":"2025-08-30","v":3.37},{"d":"2025-09-03","v":3.383},{"d":"2025-09-07","v":3.343},{"d":"2025-09-11","v":3.338},{"d":"2025-09-17","v":3.347},{"d":"2025-09-21","v":3.329},{"d":"2025-09-25","v":3.36},
{"d":"2025-09-29","v":3.329},{"d":"2025-10-04","v":3.311},{"d":"2025-10-08","v":3.275},{"d":"2025-10-14","v":3.302},{"d":"2025-10-18","v":3.315},{"d":"2025-10-22","v":3.293},{"d":"2025-10-26","v":3.257},{"d":"2025-10-31","v":3.275},{"d":"2025-11-05","v":3.257},{"d":"2025-11-09","v":3.243},
{"d":"2025-11-13","v":3.207},{"d":"2025-11-17","v":3.257},{"d":"2025-11-21","v":3.279},{"d":"2025-11-27","v":3.279},{"d":"2025-12-02","v":3.266},{"d":"2025-12-06","v":3.243},{"d":"2025-12-10","v":3.225},{"d":"2025-12-14","v":3.23},{"d":"2025-12-18","v":3.207},{"d":"2025-12-22","v":3.198},
{"d":"2025-12-28","v":3.189},{"d":"2026-01-01","v":3.184},{"d":"2026-01-04","v":3.207},{"d":"2026-01-07","v":3.171},{"d":"2026-01-11","v":3.162},{"d":"2026-01-15","v":3.144},{"d":"2026-01-17","v":3.121},{"d":"2026-01-21","v":3.166},{"d":"2026-01-23","v":3.144},{"d":"2026-01-27","v":3.117},
{"d":"2026-01-30","v":3.094},{"d":"2026-02-03","v":3.108}
],
"notes": [
{"d":"2023-11-20","v":169.3,"t":"מבצע הביפרים"},
{"d":"2023-01-09","v":137.8,"t":"מלחמה"},
{"d":"2021-09-15","v":81.6,"t":"הרפורמה המשפטית"},
{"d":"2025-09-21","v":151.5,"t":"עם כלביא"}
],
"arrows": [
{"d":"2024-03-17","v":163.0,"d2":"2024-08-27","v2":146.55},
{"d":"2023-04-07","v":139.4,"d2":"2023-09-12","v2":147.5},
{"d":"2021-12-29","v":75.5,"d2":"2022-07-18","v2":64.56},
{"d":"2025-09-21","v":147.4,"d2":"2025-07-12","v2":127.7}
]
},
"layer": [
{
"layer": [
{"data": {"name": "cds"},
 "mark": {"type": "line", "strokeWidth": 5, "strokeJoin": "round", "strokeCap": "round"},
 "encoding": {
  "x": {"field": "d", "type": "temporal",
    "scale": {"domain": [{"year": 2020, "month": 1, "date": 1}, {"year": 2026, "month": 2, "date": 3}]},
    "axis": {"format": "%m/%Y", "tickCount": {"interval": "month", "step": 2}, "labelAngle": -45, "labelAlign": "right", "labelBaseline": "middle",
      "labelFontSize": 24, "labelFont": "Liberation Sans Narrow, Liberation Sans", "labelColor": "#595959", "labelPadding": 23, "labelOffset": 4,
      "domainColor": "#D9D9D9", "domainWidth": 2, "tickColor": "#D9D9D9", "tickWidth": 2, "tickSize": 9, "labelOverlap": false, "labelFlush": false, "title": null}},
  "y": {"field": "v", "type": "quantitative",
    "scale": {"domain": [30, 170], "nice": false, "zero": false},
    "axis": {"values": [30, 50, 70, 90, 110, 130, 150, 170], "domain": false, "ticks": false, "labelFontSize": 24, "labelFont": "Liberation Sans Narrow, Liberation Sans", "labelColor": "#595959", "labelPadding": 25, "title": null}},
  "color": {"datum": "CDS", "type": "nominal",
    "scale": {"domain": ["CDS", "שקל-דולר (ציר ימני)"], "range": ["#A5A5A5", "#5B9BD5"]},
    "legend": {"orient": "none", "legendX": 727, "legendY": 776, "direction": "horizontal", "title": null, "symbolType": "stroke", "symbolStrokeWidth": 5, "symbolSize": 3136,
      "labelFontSize": 21, "labelFont": "Liberation Sans Narrow, Liberation Sans", "labelColor": "#595959", "labelOffset": 4, "columnPadding": 16, "padding": 0, "labelLimit": 400}}
 }},
{"data": {"name": "arrows"},
 "mark": {"type": "rule", "color": "#000000", "strokeWidth": 2.5},
 "encoding": {
  "x": {"field": "d", "type": "temporal", "axis": {"title": null}},
  "x2": {"field": "d2"},
  "y": {"field": "v", "type": "quantitative", "scale": {"domain": [30, 170], "nice": false, "zero": false}, "axis": {"title": null}},
  "y2": {"field": "v2"}
 }},
{"data": {"values": [{"d": "2024-09-04", "v": 145.7}]},
 "mark": {"type": "point", "shape": "M0,0 L-0.65,1.6 L0.65,1.6 Z", "size": 400, "angle": 120.7, "filled": true, "color": "#000000", "opacity": 1, "strokeWidth": 0},
 "encoding": {"x": {"field": "d", "type": "temporal", "axis": {"title": null}}, "y": {"field": "v", "type": "quantitative", "scale": {"domain": [30, 170], "nice": false, "zero": false}, "axis": {"title": null}}}},
{"data": {"values": [{"d": "2023-09-21", "v": 148.0}]},
 "mark": {"type": "point", "shape": "M0,0 L-0.65,1.6 L0.65,1.6 Z", "size": 400, "angle": 73.3, "filled": true, "color": "#000000", "opacity": 1, "strokeWidth": 0},
 "encoding": {"x": {"field": "d", "type": "temporal", "axis": {"title": null}}, "y": {"field": "v", "type": "quantitative", "scale": {"domain": [30, 170], "nice": false, "zero": false}, "axis": {"title": null}}}},
{"data": {"values": [{"d": "2022-07-27", "v": 64.38}]},
 "mark": {"type": "point", "shape": "M0,0 L-0.65,1.6 L0.65,1.6 Z", "size": 400, "angle": 107.7, "filled": true, "color": "#000000", "opacity": 1, "strokeWidth": 0},
 "encoding": {"x": {"field": "d", "type": "temporal", "axis": {"title": null}}, "y": {"field": "v", "type": "quantitative", "scale": {"domain": [30, 170], "nice": false, "zero": false}, "axis": {"title": null}}}},
{"data": {"values": [{"d": "2025-07-07", "v": 126.3}]},
 "mark": {"type": "point", "shape": "M0,0 L-0.65,1.6 L0.65,1.6 Z", "size": 400, "angle": 212, "filled": true, "color": "#000000", "opacity": 1, "strokeWidth": 0},
 "encoding": {"x": {"field": "d", "type": "temporal", "axis": {"title": null}}, "y": {"field": "v", "type": "quantitative", "scale": {"domain": [30, 170], "nice": false, "zero": false}, "axis": {"title": null}}}},
{"data": {"name": "notes"},
 "mark": {"type": "text", "fontSize": 30, "font": "Liberation Sans, DejaVu Sans", "color": "#000000", "align": "center", "baseline": "middle"},
 "encoding": {
  "x": {"field": "d", "type": "temporal", "axis": {"title": null}},
  "y": {"field": "v", "type": "quantitative", "scale": {"domain": [30, 170], "nice": false, "zero": false}, "axis": {"title": null}},
  "text": {"field": "t"}
 }},
{"data": {"values": [{"d": "2026-02-03", "v": 70.7}]},
 "mark": {"type": "text", "dx": 29, "dy": -30, "fontSize": 25, "fontWeight": "bold", "font": "Liberation Sans Narrow, Liberation Sans", "color": "#7F7F7F", "align": "center", "baseline": "middle"},
 "encoding": {
  "x": {"field": "d", "type": "temporal", "axis": {"title": null}},
  "y": {"field": "v", "type": "quantitative", "scale": {"domain": [30, 170], "nice": false, "zero": false}, "axis": {"title": null}},
  "text": {"field": "v", "type": "quantitative", "format": ".1f"}
 }}
]
},
{
"layer": [
{"data": {"name": "usd"},
 "mark": {"type": "line", "strokeWidth": 5, "strokeJoin": "round", "strokeCap": "round"},
 "encoding": {
  "x": {"field": "d", "type": "temporal", "axis": {"title": null}},
  "y": {"field": "v", "type": "quantitative",
    "scale": {"domain": [2.9, 4.3], "nice": false, "zero": false},
    "axis": {"orient": "right", "values": [2.9, 3.1, 3.3, 3.5, 3.7, 3.9, 4.1, 4.3], "format": ".1f", "domain": false, "ticks": false, "labelFontSize": 24, "labelFont": "Liberation Sans Narrow, Liberation Sans", "labelColor": "#5B9BD5", "labelPadding": 23, "title": null}},
  "color": {"datum": "שקל-דולר (ציר ימני)", "type": "nominal"}
 }},
{"data": {"values": [{"d": "2026-02-03", "v": 3.11}]},
 "mark": {"type": "text", "dx": 36, "dy": -30, "fontSize": 25, "fontWeight": "bold", "font": "Liberation Sans Narrow, Liberation Sans", "color": "#5B9BD5", "align": "center", "baseline": "middle"},
 "encoding": {
  "x": {"field": "d", "type": "temporal", "axis": {"title": null}},
  "y": {"field": "v", "type": "quantitative", "scale": {"domain": [2.9, 4.3], "nice": false, "zero": false}, "axis": {"orient": "right", "title": null}},
  "text": {"field": "v", "type": "quantitative", "format": ".2f"}
 }}
]
}
],
"resolve": {"scale": {"y": "independent"}}
}
